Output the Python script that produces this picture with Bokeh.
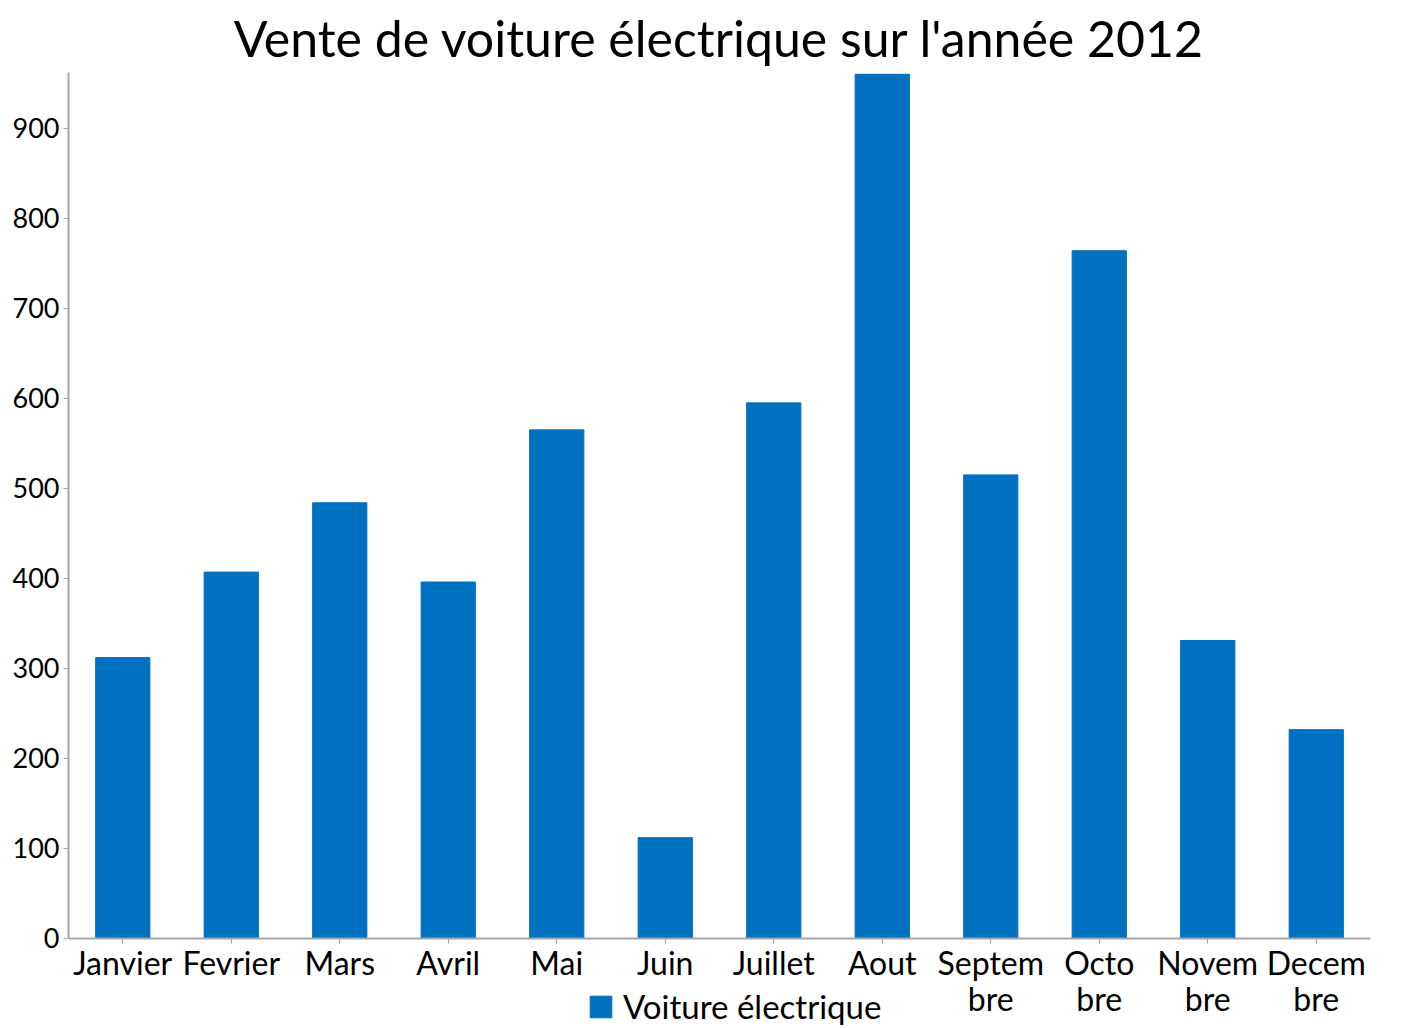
from bokeh.plotting import figure
from bokeh.models import FactorRange, Range1d, FixedTicker, Legend, LegendItem
from bokeh.embed import file_html
from bokeh.resources import INLINE

months = ["Janvier", "Fevrier", "Mars", "Avril", "Mai", "Juin", "Juillet", "Aout",
          "Septem\nbre", "Octo\nbre", "Novem\nbre", "Decem\nbre"]
ventes = [312, 407, 484, 396, 565, 112, 595, 960, 515, 764, 331, 232]
y_ticks = [0, 100, 200, 300, 400, 500, 600, 700, 800, 900]
series_name = "Voiture électrique"
title_text = "Vente de voiture électrique sur l'année 2012"

FONT = "Lato"
BLUE = "#0070C0"
Y_TOP = 962
Y_BOTTOM = -100  # room under the zero line for month labels and legend

p = figure(width=1402, height=1028, x_range=FactorRange(factors=months),
           y_range=Range1d(Y_BOTTOM, Y_TOP), output_backend="svg", toolbar_location=None,
           min_border_left=68, min_border_right=32, min_border_top=72, min_border_bottom=0)

r = p.vbar(x=months, top=ventes, bottom=0, width=0.5, fill_color=BLUE, line_color=BLUE)

p.title.text = title_text
p.title.align = "center"
p.title.text_font = FONT
p.title.text_font_size = "50px"
p.title.text_font_style = "normal"
p.title.text_color = "#000000"

p.outline_line_color = None
p.xgrid.grid_line_color = None
p.ygrid.grid_line_color = None

for ax in (p.xaxis[0], p.yaxis[0]):
    ax.axis_line_color = "#A6A6A6"
    ax.axis_line_width = 2
    ax.major_tick_line_color = "#A6A6A6"
    ax.major_tick_in = 0
    ax.major_tick_out = 5
    ax.minor_tick_line_color = None
    ax.major_label_text_font = FONT
    ax.major_label_text_color = "#000000"

p.xaxis[0].fixed_location = 0
p.yaxis[0].bounds = (0, Y_TOP)
p.yaxis[0].ticker = FixedTicker(ticks=y_ticks)
p.yaxis[0].major_label_text_font_size = "27px"
p.yaxis[0].major_label_standoff = 4
p.xaxis[0].major_label_text_font_size = "32px"
p.xaxis[0].major_label_standoff = 0
p.xaxis[0].major_label_text_line_height = 0.9

legend = Legend(items=[LegendItem(label=series_name, renderers=[r])],
                location=(519, 2), orientation="horizontal",
                label_text_font=FONT, label_text_font_size="33px",
                label_text_color="#000000",
                glyph_width=27, glyph_height=27, padding=0, spacing=0,
                label_standoff=9, border_line_color=None, background_fill_alpha=0,
                margin=0)
p.add_layout(legend, "center")

open("out.html", "w").write(file_html(p, INLINE))
